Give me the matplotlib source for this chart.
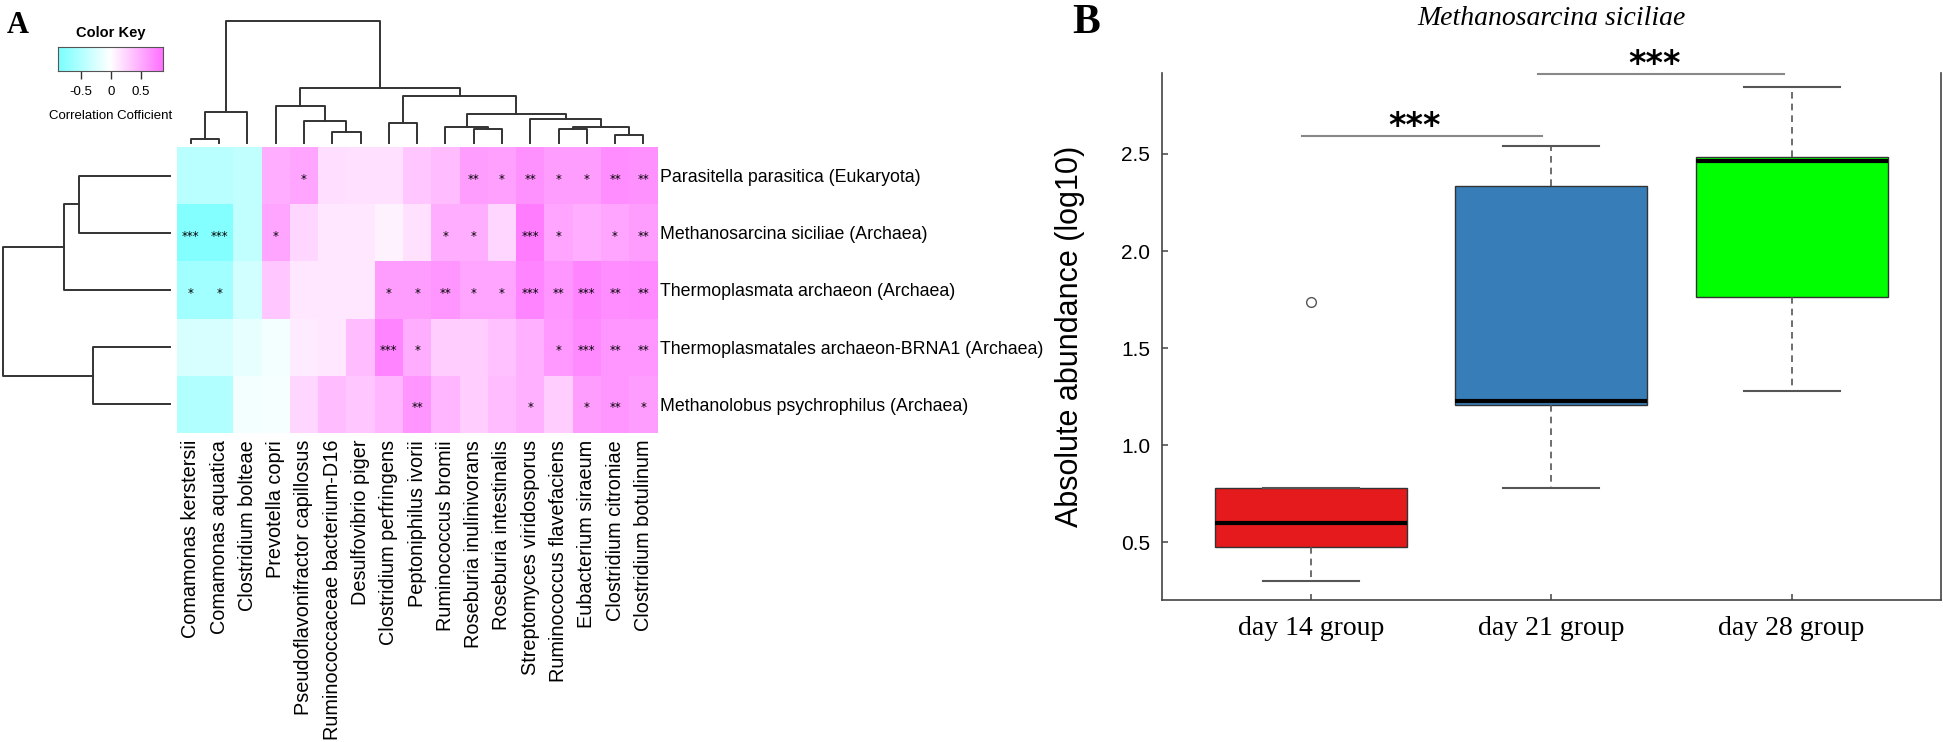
import matplotlib
matplotlib.use('Agg')
import matplotlib.pyplot as plt
import matplotlib.transforms as mtransforms
import numpy as np
from matplotlib.colors import LinearSegmentedColormap, Normalize

W, H = 1943, 742
plt.rcParams['font.family'] = ['Liberation Sans', 'DejaVu Sans']

# ---- panel A data ----
taxa = ['Parasitella parasitica (Eukaryota)',
        'Methanosarcina siciliae (Archaea)',
        'Thermoplasmata archaeon (Archaea)',
        'Thermoplasmatales archaeon-BRNA1 (Archaea)',
        'Methanolobus psychrophilus (Archaea)']
bacteria = ['Comamonas kerstersii', 'Comamonas aquatica', 'Clostridium bolteae',
            'Prevotella copri', 'Pseudoflavonifractor capillosus',
            'Ruminococcaceae bacterium-D16', 'Desulfovibrio piger',
            'Clostridium perfringens', 'Peptoniphilus ivorii', 'Ruminococcus bromii',
            'Roseburia inulinivorans', 'Roseburia intestinalis',
            'Streptomyces viridosporus', 'Ruminococcus flavefaciens',
            'Eubacterium siraeum', 'Clostridium citroniae', 'Clostridium botulinum']
corr = np.array([
    [-0.45, -0.45, -0.40, 0.50, 0.55, 0.20, 0.18, 0.18, 0.35, 0.40, 0.60, 0.58, 0.68, 0.60, 0.60, 0.70, 0.68],
    [-0.80, -0.80, -0.40, 0.55, 0.25, 0.15, 0.15, 0.08, 0.18, 0.50, 0.50, 0.25, 0.80, 0.55, 0.50, 0.55, 0.60],
    [-0.60, -0.60, -0.30, 0.35, 0.15, 0.15, 0.15, 0.60, 0.60, 0.65, 0.55, 0.55, 0.75, 0.65, 0.75, 0.70, 0.72],
    [-0.25, -0.25, -0.15, -0.08, 0.12, 0.15, 0.40, 0.75, 0.50, 0.30, 0.30, 0.38, 0.48, 0.62, 0.72, 0.65, 0.65],
    [-0.50, -0.50, -0.08, -0.06, 0.25, 0.40, 0.35, 0.45, 0.65, 0.45, 0.30, 0.40, 0.48, 0.30, 0.60, 0.65, 0.60],
])
signif = [
    ['', '', '', '', '*', '', '', '', '', '', '**', '*', '**', '*', '*', '**', '**'],
    ['***', '***', '', '*', '', '', '', '', '', '*', '*', '', '***', '*', '', '*', '**'],
    ['*', '*', '', '', '', '', '', '*', '*', '**', '*', '*', '***', '**', '***', '**', '**'],
    ['', '', '', '', '', '', '', '***', '*', '', '', '', '', '*', '***', '**', '**'],
    ['', '', '', '', '', '', '', '', '**', '', '', '', '*', '', '*', '**', '*'],
]
# dendrogram merges (left, right, height), scipy-linkage style node ids
col_merges = [(0, 1, 3.4), (17, 2, 30.4), (5, 6, 11), (4, 19, 22), (3, 20, 36.7),
              (7, 8, 20), (10, 11, 13.4), (9, 23, 15.4), (13, 14, 13.4), (15, 16, 7.7),
              (25, 26, 16), (12, 27, 23.7), (24, 28, 28.7), (22, 29, 47), (21, 30, 54.4),
              (18, 31, 122)]
row_merges = [(0, 1, 91), (5, 2, 106), (3, 4, 77), (6, 7, 167.3)]
key_ticks = [-0.5, 0, 0.5]

# ---- panel B data ----
groups = ['day 14 group', 'day 21 group', 'day 28 group']
q1 = [0.477, 1.205, 1.763]
med = [0.602, 1.229, 2.463]
q3 = [0.778, 2.337, 2.483]
whislo = [0.30, 0.78, 1.278]
whishi = [0.778, 2.539, 2.844]
fliers = [[1.739], [], []]
box_colors = ['#E41A1C', '#377EB8', '#00FF00']
sig_x = [(0.96, 1.96), (1.945, 2.97)]
sig_y = [2.593, 2.912]
sig_text = ['***', '***']

cmap = LinearSegmentedColormap.from_list('cw', ['#78FFFF', '#FFFFFF', '#FF70FF'])
norm = Normalize(-0.88, 0.88)

fig = plt.figure(figsize=(W / 100, H / 100), dpi=100)


def px_axes(x0, y0, x1, y1):
    return fig.add_axes([x0 / W, 1 - y1 / H, (x1 - x0) / W, (y1 - y0) / H])


def draw_dendro(ax, merges, n, side):
    pos = {i: i + 0.5 for i in range(n)}
    hgt = {i: 0.0 for i in range(n)}
    for k, (a, b, h) in enumerate(merges):
        p = [pos[a], pos[a], pos[b], pos[b]]
        q = [hgt[a], h, h, hgt[b]]
        if side == 'top':
            ax.plot(p, q, color='#333333', lw=1.4, clip_on=False)
        else:
            ax.plot(q, p, color='#333333', lw=1.4, clip_on=False)
        pos[n + k] = (pos[a] + pos[b]) / 2
        hgt[n + k] = h


# heatmap
hx0, hx1, hy0, hy1 = 176.7, 657.5, 147, 433
ax = px_axes(hx0, hy0, hx1, hy1)
ax.pcolormesh(np.arange(len(bacteria) + 1), np.arange(len(taxa) + 1), corr,
              cmap=cmap, norm=norm)
ax.set_xlim(0, len(bacteria))
ax.set_ylim(len(taxa), 0)
for s in ax.spines.values():
    s.set_visible(False)
ax.set_xticks(np.arange(len(bacteria)) + 0.5)
ax.set_xticklabels(bacteria, rotation=90, fontsize=14.3)
ax.set_yticks(np.arange(len(taxa)) + 0.5)
ax.set_yticklabels(taxa, fontsize=12.8)
ax.yaxis.tick_right()
ax.tick_params(axis='x', length=0, pad=5)
ax.tick_params(axis='y', length=0, pad=2)
star_tr = mtransforms.offset_copy(ax.transData, fig=fig, y=-2.5, units='points')
for i in range(len(taxa)):
    for j in range(len(bacteria)):
        if signif[i][j]:
            ax.text(j + 0.5, i + 0.5, signif[i][j], ha='center', va='center',
                    fontsize=8.5, family='DejaVu Sans', transform=star_tr)

# column dendrogram
axc = px_axes(hx0, 20.7, hx1, 142.7)
draw_dendro(axc, col_merges, len(bacteria), 'top')
axc.set_xlim(0, len(bacteria))
axc.set_ylim(0, 122)
axc.axis('off')

# row dendrogram
axr = px_axes(2.7, hy0, 170, hy1)
draw_dendro(axr, row_merges, len(taxa), 'left')
axr.set_xlim(167.3, 0)
axr.set_ylim(len(taxa), 0)
axr.axis('off')

# colour key
axk = px_axes(58.3, 46.7, 163.3, 70.7)
axk.imshow(np.linspace(-0.88, 0.88, 256)[None, :], extent=(-0.88, 0.88, 0, 1),
           aspect='auto', cmap=cmap, norm=norm)
axk.set_yticks([])
axk.set_xticks(key_ticks)
axk.set_xticklabels(['-0.5', '0', '0.5'], fontsize=9.5)
axk.tick_params(axis='x', length=5.8, width=1, color='#333333', pad=5)
for s in axk.spines.values():
    s.set_color('#555555')
    s.set_linewidth(0.8)
fig.text(110.8 / W, 1 - 33 / H, 'Color Key', ha='center', va='center',
         fontsize=10.5, fontweight='bold')
fig.text(111 / W, 1 - 116 / H, 'Correlation Cofficient', ha='center', va='center',
         fontsize=9.5)
fig.text(7 / W, 1 - 33 / H, 'A', ha='left', va='baseline', fontsize=22,
         fontweight='bold', family='Liberation Serif')

# ---- panel B: boxplot ----
axb = px_axes(1162.3, 73, 1940.5, 600)
stats = [dict(label=groups[i], q1=q1[i], med=med[i], q3=q3[i], whislo=whislo[i],
              whishi=whishi[i], fliers=fliers[i]) for i in range(len(groups))]
bp = axb.bxp(stats, positions=[1, 2, 3], widths=0.8, capwidths=0.4, patch_artist=True,
             boxprops=dict(edgecolor='#333333', linewidth=1),
             medianprops=dict(color='black', linewidth=3),
             whiskerprops=dict(color='#555555', linestyle=(0, (4, 3)), linewidth=1.2),
             capprops=dict(color='#555555', linewidth=1.5),
             flierprops=dict(marker='o', markerfacecolor='none',
                             markeredgecolor='#555555', markersize=7))
for patch, c in zip(bp['boxes'], box_colors):
    patch.set_facecolor(c)
axb.set_xlim(0.38, 3.62)
axb.set_ylim(0.203, 2.917)
axb.set_xticks([1, 2, 3])
axb.set_xticklabels(groups, family='Liberation Serif', fontsize=20)
axb.set_yticks([0.5, 1.0, 1.5, 2.0, 2.5])
axb.set_yticklabels(['0.5', '1.0', '1.5', '2.0', '2.5'], fontsize=15)
axb.tick_params(direction='in', length=4.5, color='#444444', width=1.1)
axb.tick_params(axis='y', pad=8.6)
axb.tick_params(axis='x', pad=11.5)
axb.spines['top'].set_visible(False)
for k in ['left', 'right', 'bottom']:
    axb.spines[k].set_color('#444444')
    axb.spines[k].set_linewidth(1.2)
axb.set_ylabel('Absolute abundance (log10)', fontsize=22)
axb.yaxis.set_label_coords(-0.0993, 0.5)
axb.set_title('Methanosarcina siciliae', family='Liberation Serif', style='italic',
              fontsize=20, pad=34.6)
for (xa, xb), y, t in zip(sig_x, sig_y, sig_text):
    axb.plot([xa, xb], [y, y], color='#888888', lw=1.5, clip_on=False)
    axb.text((xa + xb) / 2 - 0.03, y, t, ha='center', va='baseline', fontsize=24,
             fontweight='bold', family='DejaVu Sans', clip_on=False)
fig.text(1072 / W, 1 - 33 / H, 'B', ha='left', va='baseline', fontsize=30,
         fontweight='bold', family='Liberation Serif')

fig.savefig('out.png', dpi=100, facecolor='white')
